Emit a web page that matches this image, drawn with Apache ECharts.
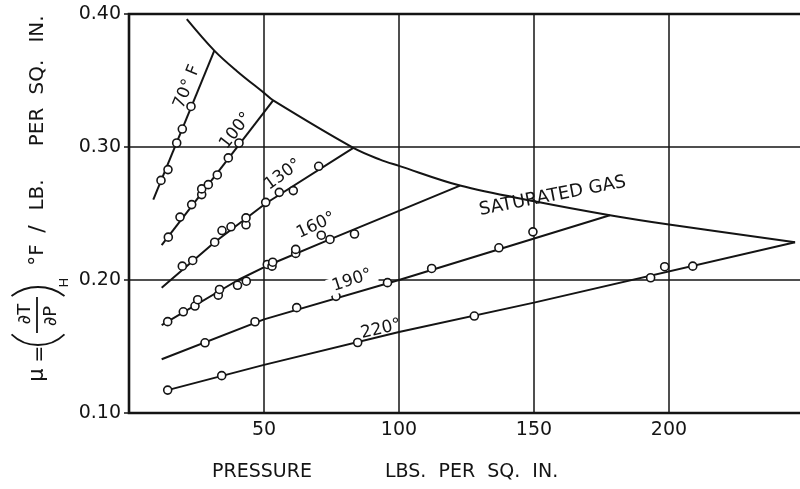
<!DOCTYPE html>
<html>
<head>
<meta charset="utf-8">
<script src="https://cdn.jsdelivr.net/npm/echarts@6/dist/echarts.min.js"></script>
<style>
  html, body { margin: 0; padding: 0; background: #fff; }
  #chart { width: 800px; height: 489px; }
</style>
</head>
<body>
<div id="chart"></div>
<script>
// Joule-Thomson coefficient of a gas vs. pressure, one line per isotherm,
// bounded at the top by the saturated-gas curve.

// axis tick labels
const pressureTicks = [50, 100, 150, 200];
const muTicks = ['0.10', '0.20', '0.30', '0.40'];

// fitted isotherm lines [pressure, mu]
const line70 = [[9.0, 0.2605], [31.6, 0.3725]];
const line100 = [[12.1, 0.2262], [53.4, 0.3350]];
const line130 = [[12.1, 0.1942], [31.7, 0.2284], [50.6, 0.2575], [83.1, 0.2993]];
const line160 = [[12.1, 0.1660], [40.4, 0.2000], [52.0, 0.2115], [74.4, 0.2305], [100, 0.2520], [122.6, 0.2710]];
const line190 = [[12.1, 0.1404], [50, 0.1704], [100, 0.2000], [178.1, 0.2487]];
const line220 = [[14.3, 0.1172], [50, 0.1362], [100, 0.1609], [150, 0.1830], [246.7, 0.2284]];

// saturated gas boundary
const saturated = [
  [21.4, 0.3962], [31.6, 0.3725], [39.9, 0.3572], [50.1, 0.3405], [53.4, 0.3350],
  [83.1, 0.2993], [93.0, 0.2905], [100, 0.2858], [122.6, 0.2710], [150.1, 0.2592],
  [178.1, 0.2487], [200, 0.2417], [246.7, 0.2284]
];

// measured points [pressure, mu]
const obs70 = [[11.85, 0.2749], [14.44, 0.2830], [17.67, 0.3030], [19.74, 0.3135], [22.96, 0.3305]];
const obs100 = [[14.56, 0.2322], [18.89, 0.2473], [23.22, 0.2567], [26.93, 0.2642], [26.93, 0.2685],
  [29.37, 0.2717], [32.70, 0.2790], [36.78, 0.2918], [40.74, 0.3030]];
const obs130 = [[19.74, 0.2104], [23.59, 0.2147], [31.74, 0.2284], [34.44, 0.2372], [37.78, 0.2400],
  [43.33, 0.2415], [43.33, 0.2467], [50.63, 0.2584], [55.67, 0.2659], [60.85, 0.2672], [70.26, 0.2855]];
const obs160 = [[14.33, 0.1687], [20.11, 0.1761], [24.44, 0.1804], [25.44, 0.1852], [33.07, 0.1886],
  [33.52, 0.1929], [40.19, 0.1960], [43.44, 0.1991], [51.22, 0.2117], [52.96, 0.2104], [53.22, 0.2134],
  [61.74, 0.2200], [61.74, 0.2230], [71.22, 0.2337], [74.44, 0.2305], [83.52, 0.2346]];
const obs190 = [[28.15, 0.1528], [46.67, 0.1686], [62.11, 0.1792], [76.67, 0.1877], [95.74, 0.1980],
  [112.1, 0.2087], [137.0, 0.2242], [149.6, 0.2362]];
const obs220 = [[14.33, 0.1172], [34.33, 0.1281], [84.7, 0.1530], [127.9, 0.1729], [193.2, 0.2017],
  [198.4, 0.2100], [208.8, 0.2104]];

// curve names
const curveNames = ['70° F', '100°', '130°', '160°', '190°', '220°', 'SATURATED GAS'];

const INK = '#141414';
const FONT = '"DejaVu Sans", "Liberation Sans", sans-serif';

function curve(data, smooth) {
  return {
    type: 'line', data: data, symbol: 'none', smooth: smooth,
    lineStyle: { color: INK, width: 2 }, z: 3, silent: true
  };
}
function points(data) {
  return {
    type: 'scatter', data: data, symbol: 'circle', symbolSize: 8,
    itemStyle: { color: '#fff', borderColor: INK, borderWidth: 1.6, opacity: 1 },
    z: 5, silent: true
  };
}

// where each curve name is written, and its slant
const namePlacement = [
  { at: [21.5, 0.3452], rotate: 68 },
  { at: [39.6, 0.3122], rotate: 52 },
  { at: [57.0, 0.2792], rotate: 36 },
  { at: [69.3, 0.2410], rotate: 25 },
  { at: [82.6, 0.1997], rotate: 18, mask: true },
  { at: [93.3, 0.1630], rotate: 13 },
  { at: [156.9, 0.2630], rotate: 11, size: 18 }
];

const nameSeries = {
  type: 'scatter', symbolSize: 0, z: 6, silent: true,
  itemStyle: { opacity: 1 },
  data: namePlacement.map((p, i) => ({
    value: p.at, name: curveNames[i],
    label: {
      rotate: p.rotate,
      fontSize: p.size || 17,
      backgroundColor: p.mask ? '#fff' : 'transparent',
      padding: p.mask ? [0, 5] : 0
    }
  })),
  label: {
    show: true, position: 'inside', formatter: (p) => p.name,
    color: INK, fontFamily: FONT, fontSize: 17, opacity: 1
  }
};

// y-axis title: mu = (dT/dP)_H  °F / LB. PER SQ. IN., written bottom-to-top
function yt(text, lx, ly, size) {
  return {
    type: 'text', x: lx, y: ly,
    style: {
      text: text, font: size + 'px ' + FONT, fill: INK,
      textAlign: 'center', textVerticalAlign: 'middle', align: 'center', verticalAlign: 'middle'
    }
  };
}
const yTitle = {
  type: 'group', x: 38, y: 390, rotation: Math.PI / 2, silent: true,
  children: [
    yt('μ', 15, 0, 21),
    yt('=', 36, 2, 20),
    { type: 'arc', shape: { cx: 83, cy: 0, r: 38, startAngle: Math.PI - 0.77, endAngle: Math.PI + 0.77, clockwise: true },
      style: { stroke: INK, lineWidth: 1.8, fill: null } },
    yt('∂T', 76, -12.5, 18),
    { type: 'line', shape: { x1: 57, y1: -1, x2: 93, y2: -1 }, style: { stroke: INK, lineWidth: 1.8 } },
    yt('∂P', 74, 13, 18),
    { type: 'arc', shape: { cx: 59.5, cy: 0, r: 43.5, startAngle: -0.655, endAngle: 0.655, clockwise: true },
      style: { stroke: INK, lineWidth: 1.8, fill: null } },
    yt('H', 107.5, 27, 13),
    yt('°F', 135, 0, 20),
    yt('/', 161, 0, 22),
    yt('LB.', 195, 0, 20),
    yt('PER', 263, 0, 20),
    yt('SQ.', 313, 0, 20),
    yt('IN.', 361, 0, 20)
  ]
};

function xt(text, x) {
  return {
    type: 'text', x: x, y: 472, silent: true,
    style: { text: text, font: '19px ' + FONT, fill: INK, textVerticalAlign: 'middle', verticalAlign: 'middle' }
  };
}

const chart = echarts.init(document.getElementById('chart'), null, { renderer: 'canvas' });
chart.setOption({
  animation: false,
  backgroundColor: '#fff',
  grid: {
    left: 129, top: 14, width: 675, height: 399,
    show: true, borderColor: INK, borderWidth: 2.6, backgroundColor: 'transparent',
    outerBoundsMode: 'none', containLabel: false
  },
  xAxis: {
    type: 'value', min: 0, max: 250, interval: 50,
    axisLine: { show: false }, axisTick: { show: false },
    splitLine: { show: true, lineStyle: { color: INK, width: 1.5 } },
    axisLabel: {
      color: INK, fontFamily: FONT, fontSize: 19, margin: 8,
      formatter: (v) => pressureTicks.includes(v) ? String(v) : ''
    }
  },
  yAxis: {
    type: 'value', min: 0.1, max: 0.4, interval: 0.1,
    axisLine: { show: false },
    axisTick: { show: true, length: 5, lineStyle: { color: INK, width: 1.5 } },
    splitLine: { show: true, lineStyle: { color: INK, width: 1.5 } },
    axisLabel: {
      color: INK, fontFamily: FONT, fontSize: 19, margin: 8,
      formatter: (v) => muTicks.find((t) => Math.abs(parseFloat(t) - v) < 1e-6) || ''
    }
  },
  graphic: [yTitle, xt('PRESSURE', 212), xt('LBS.  PER  SQ.  IN.', 385)],
  series: [
    curve(saturated, 0.35),
    curve(line70, false), curve(line100, false), curve(line130, false),
    curve(line160, false), curve(line190, false), curve(line220, false),
    points(obs70), points(obs100), points(obs130),
    points(obs160), points(obs190), points(obs220),
    nameSeries
  ]
});
</script>
</body>
</html>
